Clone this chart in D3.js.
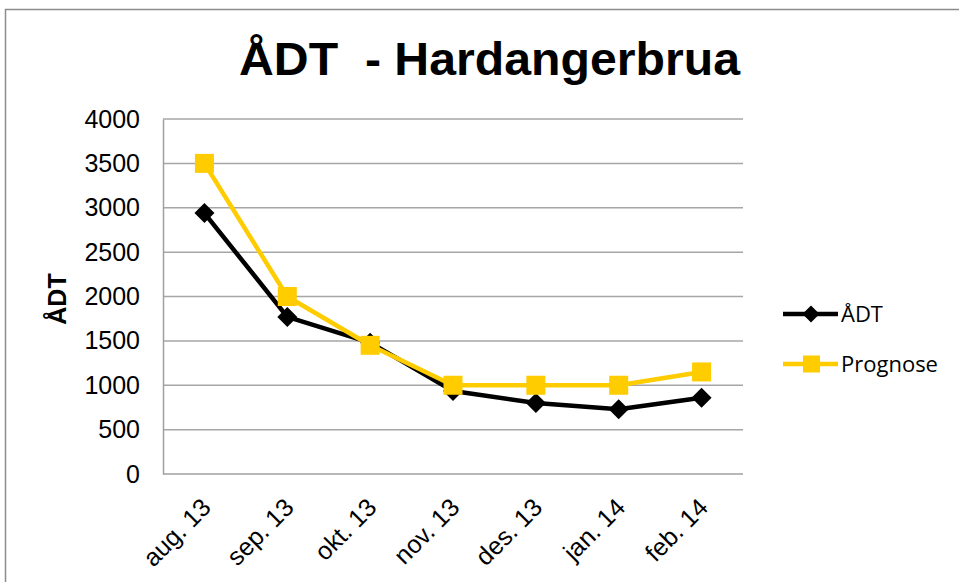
<!DOCTYPE html>
<html><head><meta charset="utf-8">
<script src="https://cdn.jsdelivr.net/npm/d3@7"></script>
<style>body{margin:0;background:#fff}svg{display:block}</style>
</head><body>
<script>
const categories = ["aug. 13","sep. 13","okt. 13","nov. 13","des. 13","jan. 14","feb. 14"];
const adtValues = [2940, 1770, 1480, 935, 800, 730, 860];
const prognoseValues = [3500, 2000, 1450, 1000, 1000, 1000, 1150];
const yTicks = [0,500,1000,1500,2000,2500,3000,3500,4000];
const seriesNames = ["ÅDT","Prognose"];

(function(){
const W = 959, H = 582;
const svg = d3.select("body").append("svg").attr("width", W).attr("height", H);
const arial = "Liberation Sans, Arial, sans-serif";

// frame
svg.append("rect").attr("x",5.5).attr("y",9.5).attr("width",W).attr("height",H)
  .attr("fill","#fff").attr("stroke","#8c8c8c").attr("stroke-width",1.5);

const pLeft = 163, pRight = 743, pTop = 119, pBottom = 474;
const x = d3.scaleBand().domain(categories).range([pLeft, pRight]);
const y = d3.scaleLinear().domain([0, 4000]).range([pBottom, pTop]);

// grid
svg.append("g").selectAll("line").data(yTicks.filter(d=>d>0)).join("line")
  .attr("x1",pLeft).attr("x2",pRight).attr("y1",d=>y(d)).attr("y2",d=>y(d))
  .attr("stroke","#a6a6a6").attr("stroke-width",1.5);

// y axis
const ya = svg.append("g").attr("transform",`translate(${pLeft},0)`)
  .call(d3.axisLeft(y).tickValues(yTicks).tickSize(0).tickPadding(23).tickFormat(d3.format("d")));
ya.select(".domain").attr("stroke","#a0a0a0").attr("stroke-width",1.5);
ya.selectAll("text").attr("font-family",arial).attr("font-size",25).attr("fill","#000");

// x axis
const xa = svg.append("g").attr("transform",`translate(0,${pBottom})`)
  .call(d3.axisBottom(x).tickSize(0).tickPadding(0));
xa.select(".domain").attr("stroke","#a0a0a0").attr("stroke-width",1.5).attr("d",`M${pLeft},0H${pRight}`);
xa.selectAll(".tick text")
  .attr("font-family",arial).attr("font-size",25).attr("fill","#000")
  .attr("text-anchor","end").attr("dy",0).attr("y",0)
  .style("white-space","pre")
  .attr("transform","translate(8,35) rotate(-45)");

// y label
svg.append("text").attr("transform","translate(66,299) rotate(-90)")
  .attr("text-anchor","middle").attr("font-family",arial)
  .attr("font-weight","bold").attr("font-size",25).text("ÅDT");

// title
svg.append("text").attr("x",489.5).attr("y",75).attr("text-anchor","middle")
  .attr("font-family",arial).attr("font-weight","bold")
  .attr("font-size",46).attr("textLength",501).attr("lengthAdjust","spacingAndGlyphs")
  .style("white-space","pre").text("ÅDT  - Hardangerbrua");

const cx = d => x(d) + x.bandwidth()/2;
const line = d3.line().x((d,i)=>cx(categories[i])).y(d=>y(d));
const yellow = "#ffcc00";

svg.append("path").datum(adtValues).attr("d",line).attr("fill","none")
  .attr("stroke","#000").attr("stroke-width",4.5).attr("stroke-linejoin","round");
svg.append("path").datum(prognoseValues).attr("d",line).attr("fill","none")
  .attr("stroke",yellow).attr("stroke-width",4.5).attr("stroke-linejoin","round");

const diamond = s => `M0,${-s}L${s},0L0,${s}L${-s},0Z`;
svg.append("g").selectAll("path").data(adtValues).join("path")
  .attr("d",diamond(10)).attr("fill","#000")
  .attr("transform",(d,i)=>`translate(${cx(categories[i])},${y(d)})`);
svg.append("g").selectAll("rect").data(prognoseValues).join("rect")
  .attr("x",(d,i)=>cx(categories[i])-9.5).attr("y",d=>y(d)-9.5)
  .attr("width",19).attr("height",19).attr("fill",yellow);

// legend
const lg = svg.append("g");
const legendY = [314, 364];
lg.append("line").attr("x1",783).attr("x2",838).attr("y1",legendY[0]).attr("y2",legendY[0])
  .attr("stroke","#000").attr("stroke-width",4.5);
lg.append("path").attr("d",diamond(8.5)).attr("transform",`translate(811,${legendY[0]})`).attr("fill","#000");
lg.append("line").attr("x1",783).attr("x2",838).attr("y1",legendY[1]).attr("y2",legendY[1])
  .attr("stroke",yellow).attr("stroke-width",4.5);
lg.append("rect").attr("x",803).attr("y",legendY[1]-8.5).attr("width",17).attr("height",17).attr("fill",yellow);
lg.selectAll("text").data(seriesNames).join("text")
  .attr("x",841).attr("y",(d,i)=>legendY[i]+8)
  .attr("font-family","'Open Sans', Lato, sans-serif").attr("font-size",22).attr("fill","#000")
  .text(d=>d);
})();
</script>
</body></html>
